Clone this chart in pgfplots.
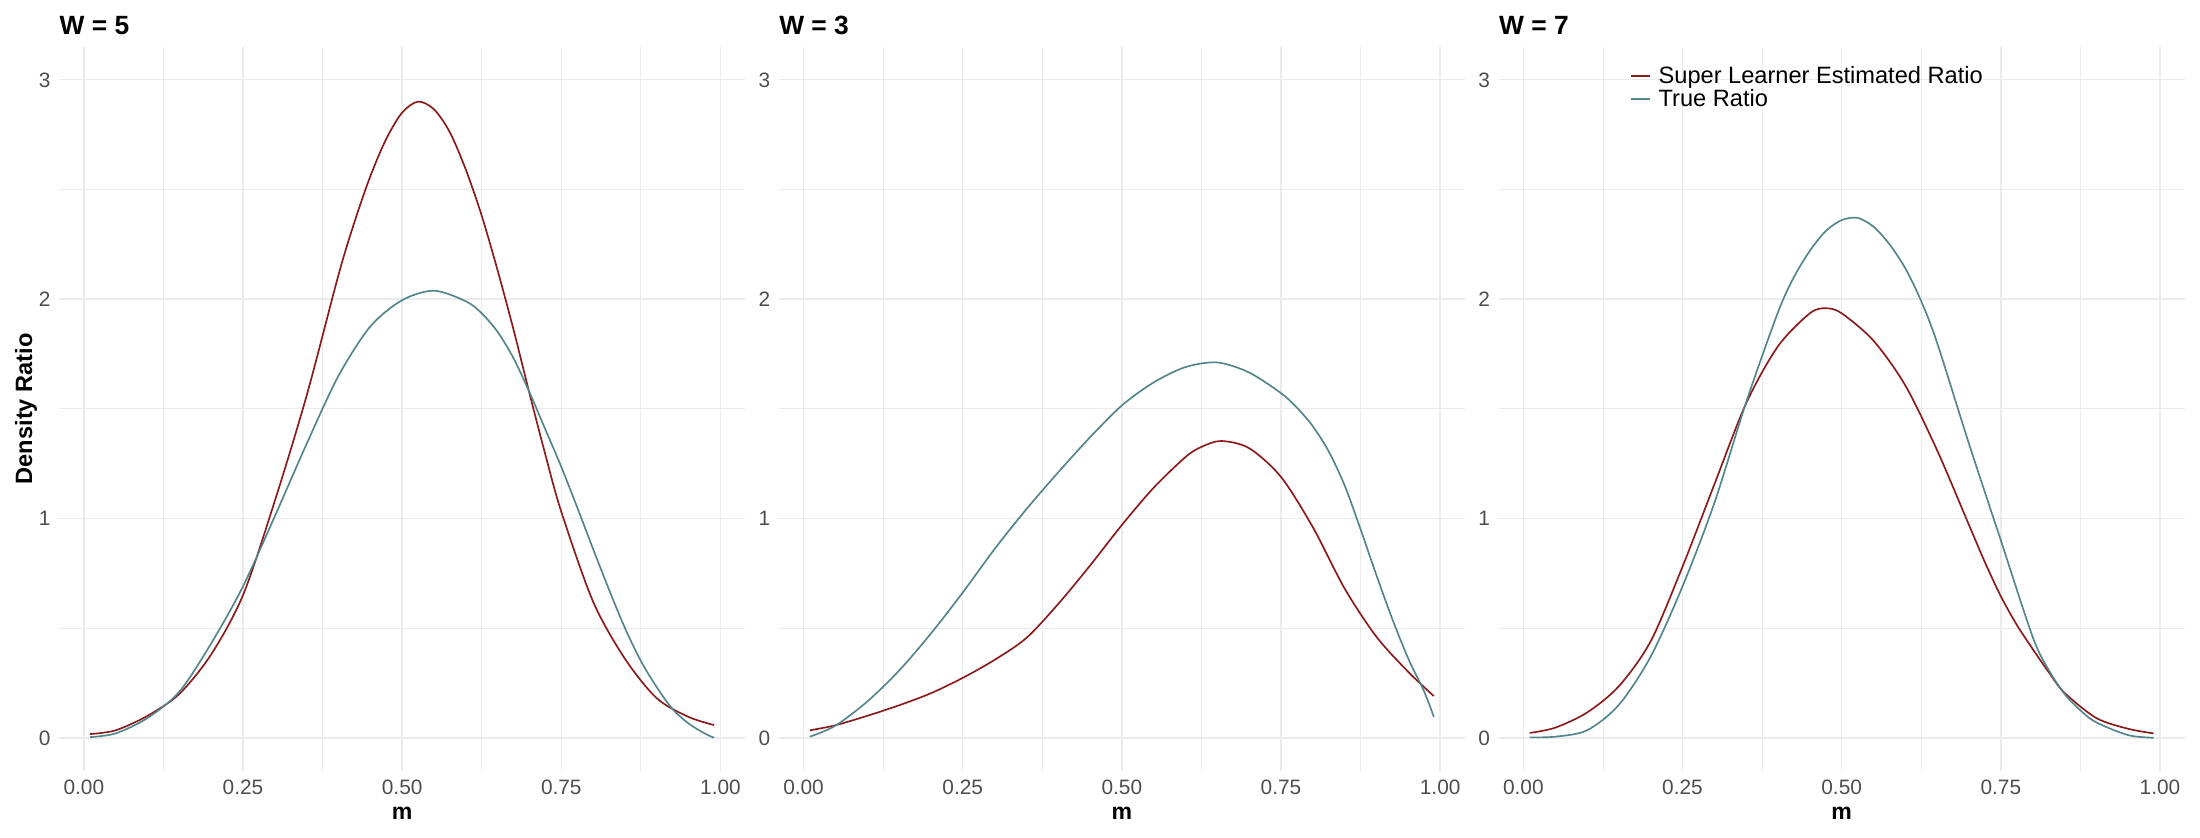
\documentclass[border=0pt]{standalone}
\usepackage{fontspec}
\setmainfont{Liberation Sans}
\usepackage{pgfplots}
\usepackage{pgfplotstable}
\pgfplotsset{compat=1.18}
\definecolor{slred}{HTML}{8B1A1A}
\definecolor{sltrue}{HTML}{53868B}
\definecolor{gridc}{HTML}{EBEBEB}
\definecolor{tickc}{HTML}{4D4D4D}

\pgfplotstableread{
x y
0.01 0.017
0.05 0.034
0.10 0.10
0.15 0.20
0.20 0.38
0.25 0.65
0.30 1.08
0.35 1.56
0.40 2.11
0.425 2.35
0.45 2.56
0.475 2.73
0.50 2.85
0.525 2.90
0.55 2.865
0.575 2.76
0.60 2.59
0.625 2.38
0.65 2.13
0.675 1.86
0.70 1.57
0.725 1.29
0.75 1.03
0.80 0.62
0.85 0.36
0.90 0.18
0.95 0.095
0.99 0.058
}\redA
\pgfplotstableread{
x y
0.01 0.003
0.05 0.02
0.10 0.09
0.15 0.21
0.20 0.43
0.25 0.69
0.30 1.01
0.35 1.34
0.40 1.65
0.45 1.875
0.50 1.995
0.55 2.038
0.60 1.99
0.625 1.935
0.65 1.85
0.675 1.73
0.70 1.575
0.725 1.405
0.75 1.235
0.775 1.05
0.80 0.86
0.825 0.675
0.85 0.50
0.875 0.35
0.90 0.23
0.925 0.13
0.95 0.065
0.975 0.02
0.99 0.00
}\blueA
\pgfplotstableread{
x y
0.01 0.034
0.05 0.057
0.10 0.10
0.15 0.148
0.20 0.203
0.25 0.273
0.30 0.355
0.35 0.455
0.40 0.61
0.45 0.785
0.50 0.97
0.55 1.14
0.60 1.28
0.625 1.326
0.656 1.353
0.70 1.32
0.75 1.189
0.80 0.96
0.85 0.68
0.90 0.46
0.95 0.30
0.99 0.19
}\redB
\pgfplotstableread{
x y
0.01 0.005
0.05 0.055
0.10 0.165
0.15 0.306
0.20 0.475
0.25 0.662
0.30 0.86
0.35 1.042
0.40 1.21
0.45 1.37
0.50 1.515
0.55 1.62
0.60 1.69
0.65 1.711
0.70 1.665
0.75 1.571
0.775 1.505
0.80 1.42
0.825 1.305
0.85 1.15
0.875 0.95
0.90 0.74
0.925 0.54
0.95 0.36
0.975 0.21
0.99 0.095
}\blueB
\pgfplotstableread{
x y
0.01 0.022
0.05 0.046
0.10 0.115
0.15 0.235
0.20 0.44
0.25 0.78
0.30 1.155
0.35 1.525
0.40 1.785
0.45 1.935
0.475 1.958
0.50 1.935
0.55 1.81
0.60 1.606
0.65 1.31
0.70 0.97
0.725 0.80
0.75 0.645
0.775 0.515
0.80 0.405
0.825 0.30
0.85 0.205
0.90 0.09
0.95 0.041
0.99 0.02
}\redC
\pgfplotstableread{
x y
0.01 0.002
0.05 0.005
0.10 0.034
0.15 0.15
0.20 0.37
0.25 0.69
0.30 1.07
0.35 1.53
0.40 1.94
0.425 2.10
0.45 2.22
0.475 2.31
0.50 2.36
0.525 2.37
0.55 2.33
0.575 2.25
0.60 2.14
0.625 1.99
0.65 1.80
0.70 1.34
0.75 0.90
0.80 0.46
0.825 0.31
0.85 0.20
0.875 0.125
0.90 0.07
0.95 0.012
0.99 0.00
}\blueC

\pgfplotsset{
  panel/.style={
    scale only axis, width=247.07pt, height=260.6pt, anchor=south west,
    xmin=-0.039, xmax=1.039, ymin=-0.15, ymax=3.15,
    axis line style={draw=none},
    major tick length=0pt, minor tick length=0pt,
    grid=both,
    major grid style={draw=gridc, line width=0.55pt},
    minor grid style={draw=gridc, line width=0.3pt},
    xtick={0,0.25,0.5,0.75,1},
    xticklabels={0.00,0.25,0.50,0.75,1.00},
    minor xtick={0.125,0.375,0.625,0.875},
    ytick={0,1,2,3},
    yticklabels={0,1,2,3},
    minor ytick={0.5,1.5,2.5},
    /pgf/number format/assume math mode=true,
    ticklabel style={font=\fontsize{7.5}{7.5}\selectfont, text=tickc, inner sep=0pt},
    xticklabel style={anchor=north, text height=5.4pt, text depth=0pt},
    yticklabel style={anchor=east, text height=5.4pt, text depth=0pt},
    xticklabel shift=3.1pt,
    yticklabel shift=2.9pt,
    every axis title/.style={at={(axis description cs:0,1.0175)}, anchor=base west, inner sep=0pt,
      font=\bfseries\fontsize{9.5}{9.5}\selectfont},
    xlabel={m},
    xlabel style={at={(axis description cs:0.5,-0.0672)}, anchor=base, inner sep=0pt,
      font=\bfseries\fontsize{8.3}{8.3}\selectfont},
    ylabel style={at={(axis description cs:-0.0393,0.5)}, anchor=base, inner sep=0pt,
      font=\bfseries\fontsize{8.5}{8.5}\selectfont},
    clip=false,
  },
  slline/.style={slred, line width=0.6pt, smooth},
  trline/.style={sltrue, line width=0.6pt, smooth},
}

\begin{document}
\begin{tikzpicture}
\useasboundingbox (0,0) rectangle (792pt,301.68pt);
\begin{axis}[panel, at={(21.24pt,24.23pt)}, title={W = 5}, ylabel={Density Ratio}]
\addplot[slline] table[x=x,y=y] {\redA};
\addplot[trline] table[x=x,y=y] {\blueA};
\end{axis}
\begin{axis}[panel, at={(280.33pt,24.23pt)}, title={W = 3}]
\addplot[slline] table[x=x,y=y] {\redB};
\addplot[trline] table[x=x,y=y] {\blueB};
\end{axis}
\begin{axis}[panel, at={(539.46pt,24.23pt)}, title={W = 7},
  legend style={at={(axis description cs:0.1916,0.976)}, anchor=north west, draw=none, fill=none,
    inner sep=0pt, outer sep=0pt, row sep=0pt,
    font=\fontsize{8.5}{8.5}\selectfont,
    nodes={inner sep=0pt, text height=6.9pt, text depth=1.5pt},
    /tikz/every odd column/.append style={column sep=2.9pt}},
  legend cell align=left,
  legend image code/.code={\draw[#1, line width=0.6pt] (0pt,0pt) -- (6.8pt,0pt);},
  ]
\addplot[slline] table[x=x,y=y] {\redC};
\addlegendentry{Super Learner Estimated Ratio}
\addplot[trline] table[x=x,y=y] {\blueC};
\addlegendentry{True Ratio}
\end{axis}
\end{tikzpicture}
\end{document}
